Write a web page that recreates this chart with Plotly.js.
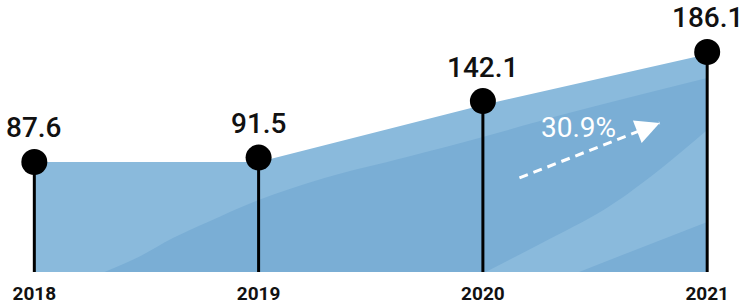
<!DOCTYPE html>
<html>
<head>
<meta charset="utf-8">
<script src="https://cdn.plot.ly/plotly-3.0.1.min.js"></script>
<style>
  html, body { margin: 0; padding: 0; background: #ffffff; }
  #chart { width: 748px; height: 308px; }
</style>
</head>
<body>
<div id="chart"></div>
<script>
// ---- data ----
const years = [2018, 2019, 2020, 2021];
const yearLabels = ["2018", "2019", "2020", "2021"];
const values = [87.6, 91.5, 142.1, 186.1];
const valueLabels = ["87.6", "91.5", "142.1", "186.1"];
// outline of the filled area
const areaTop = [87.6, 87.6, 138.6, 184.0];
// decorative shading bands inside the area
const bandDarkX = [2018.313, 2018.465, 2018.618, 2018.774, 2019, 2019.294, 2019.661, 2020, 2020.4, 2021];
const bandDarkY = [-10.9, 2.5, 19.5, 33.9, 53.6, 73.3, 92.1, 110.0, 132.3, 162.8];
const bandLightX = [2020.0125, 2020.263, 2020.538, 2020.746, 2021];
const bandLightY = [-10.9, 15.1, 44.6, 74.1, 116.2];
const bandLowX = [2020.429, 2020.679, 2021];
const bandLowY = [-10.9, 8.8, 33.9];
// growth annotation
const growthLabel = "30.9%";
const growthArrowX = [2020.163, 2020.788];
const growthArrowY = [73.3, 122.5];
const growthTextX = 2020.425;
const growthTextY = 118.9;

// ---- scales ----
const yMin = -10.9, yMax = 232.6;
const xMin = 2017.847, xMax = 2021.182;

const lightBlue = "#8abadc";
const darkBlue = "#7aaed5";

const areaPoly = {
  x: years.concat(years.slice().reverse()),
  y: areaTop.concat(years.map(() => yMin))
};

function band(xs, ys, color) {
  const last = xs[xs.length - 1];
  return [
    { type: "scatter", mode: "lines", x: [xs[0], last], y: [yMin, yMin],
      line: { width: 0, color: color }, hoverinfo: "skip" },
    { type: "scatter", mode: "lines", x: xs, y: ys, fill: "tonexty",
      fillcolor: color, line: { width: 0, color: color, shape: "spline", smoothing: 1 },
      hoverinfo: "skip" }
  ];
}

const traces = [
  { type: "scatter", mode: "lines", x: areaPoly.x, y: areaPoly.y, fill: "toself",
    fillcolor: lightBlue, line: { width: 0, color: lightBlue }, hoverinfo: "skip" }
].concat(
  band(bandDarkX, bandDarkY, darkBlue),
  band(bandLightX, bandLightY, lightBlue),
  band(bandLowX, bandLowY, darkBlue),
  [
    // stems
    { type: "scatter", mode: "lines",
      x: years.flatMap(v => [v, v, null]),
      y: values.flatMap(v => [yMin, v, null]),
      line: { color: "#000000", width: 3 }, hoverinfo: "skip" },
    // growth dashed line
    { type: "scatter", mode: "lines", x: growthArrowX, y: growthArrowY,
      line: { color: "#ffffff", width: 3, dash: "9px,6px" }, hoverinfo: "skip" },
    // dots
    { type: "scatter", mode: "markers", x: years, y: values,
      marker: { size: 26, color: "#000000" }, hoverinfo: "skip" }
  ]
);

const annotations = values.map((v, i) => ({
  x: years[i], y: v, xref: "x", yref: "y",
  text: valueLabels[i], showarrow: false,
  yanchor: "middle", yshift: 34,
  font: { family: "Roboto", size: 28, weight: 500, color: "#111111" }
}));
annotations.push({
  x: growthTextX, y: growthTextY, xref: "x", yref: "y",
  text: growthLabel, showarrow: false, yanchor: "middle",
  font: { family: "Roboto", size: 28, color: "#ffffff" }
});
annotations.push({
  x: growthArrowX[1], y: growthArrowY[1], xref: "x", yref: "y",
  ax: growthArrowX[0] + (growthArrowX[1] - growthArrowX[0]) * 0.85,
  ay: growthArrowY[0] + (growthArrowY[1] - growthArrowY[0]) * 0.85,
  axref: "x", ayref: "y",
  text: "", showarrow: true, arrowhead: 2, arrowsize: 1.6, arrowwidth: 3,
  arrowcolor: "#ffffff", standoff: 0
});

const layout = {
  width: 748, height: 308,
  margin: { l: 0, r: 0, t: 0, b: 36, pad: 0 },
  paper_bgcolor: "#ffffff", plot_bgcolor: "#ffffff",
  showlegend: false,
  xaxis: {
    range: [xMin, xMax], showgrid: false, zeroline: false, showline: false,
    tickvals: years, ticktext: yearLabels, ticks: "",
    ticklabelstandoff: 8,
    tickfont: { family: "Roboto", size: 19, weight: "bold", color: "#111111" },
    fixedrange: true
  },
  yaxis: {
    range: [yMin, yMax], showgrid: false, zeroline: false, showline: false,
    showticklabels: false, ticks: "", fixedrange: true
  },
  annotations: annotations
};

Plotly.newPlot("chart", traces, layout, { displayModeBar: false, staticPlot: true });
</script>
</body>
</html>
